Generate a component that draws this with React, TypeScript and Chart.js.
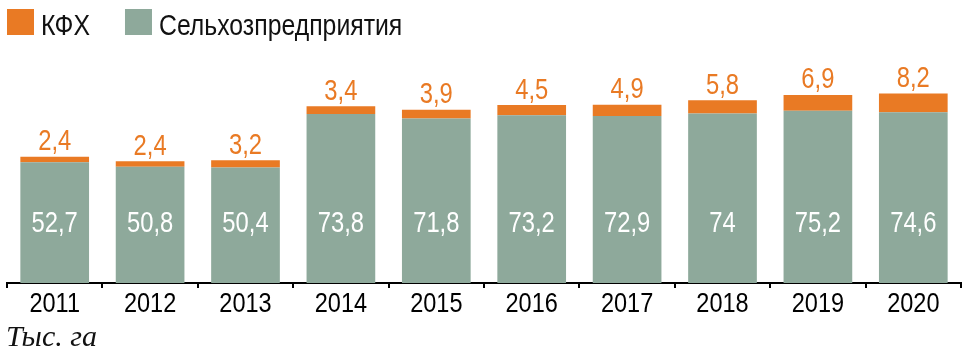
import React, { useEffect, useRef } from "react";
import { Chart, registerables } from "chart.js";

Chart.register(...registerables);

const years = ["2011", "2012", "2013", "2014", "2015", "2016", "2017", "2018", "2019", "2020"];
const agriValues = [52.7, 50.8, 50.4, 73.8, 71.8, 73.2, 72.9, 74, 75.2, 74.6];
const farmValues = [2.4, 2.4, 3.2, 3.4, 3.9, 4.5, 4.9, 5.8, 6.9, 8.2];
const agriLabel = "Сельхозпредприятия";
const farmLabel = "КФХ";
const unitLabel = "Тыс. га";

const GREEN = "#8ea99b";
const ORANGE = "#e97a24";
const SANS = "'Liberation Sans', Arial, sans-serif";

const fmt = (v: number) => String(v).replace(".", ",");

function narrowText(ctx: any, text: string, x: number, y: number, size: number, align: string, color: string, k = 0.82) {
  ctx.save();
  ctx.translate(x, y);
  ctx.scale(k, 1);
  ctx.font = `${size}px ${SANS}`;
  ctx.textAlign = align;
  ctx.textBaseline = "alphabetic";
  ctx.fillStyle = color;
  ctx.fillText(text, 0, 0);
  const w = ctx.measureText(text).width * k;
  ctx.restore();
  return w;
}

const labelsPlugin = {
  id: "valueLabels",
  afterDatasetsDraw(chart: any) {
    const ctx = chart.ctx;
    const m0 = chart.getDatasetMeta(0);
    m0.data.forEach((bar: any, i: number) => {
      narrowText(ctx, fmt(agriValues[i]), bar.x, bar.base - 51, 29, "center", "#ffffff");
    });
    const m1 = chart.getDatasetMeta(1);
    m1.data.forEach((bar: any, i: number) => {
      narrowText(ctx, fmt(farmValues[i]), bar.x, bar.y - 6.5, 29, "center", ORANGE);
    });
  },
};

const axisLabelsPlugin = {
  id: "yearLabels",
  afterDraw(chart: any) {
    const ctx = chart.ctx;
    const xs = chart.scales.x;
    xs.ticks.forEach((t: any, i: number) => {
      const px = xs.getPixelForTick(i);
      narrowText(ctx, String(xs.getLabelForValue(t.value)), px, xs.top + 29, 28, "center", "#000", 0.84);
    });
  },
};

const legendPlugin = {
  id: "customLegend",
  afterDraw(chart: any) {
    const ctx = chart.ctx;
    const items = [
      { text: chart.data.datasets[1].label, color: chart.data.datasets[1].backgroundColor },
      { text: chart.data.datasets[0].label, color: chart.data.datasets[0].backgroundColor },
    ];
    let x = 7;
    const top = 9;
    const box = 27;
    items.forEach((it) => {
      ctx.fillStyle = it.color;
      ctx.fillRect(x, top, box, 26);
      const tx = x + box + 7;
      const w = narrowText(ctx, it.text, tx, 35, 29, "left", "#111", 0.855);
      x = tx + w + 35;
    });
    ctx.save();
    ctx.font = `italic 30px 'Liberation Serif', serif`;
    ctx.textBaseline = "alphabetic";
    ctx.textAlign = "left";
    ctx.fillStyle = "#111";
    ctx.fillText(unitLabel, 6, 346);
    ctx.restore();
  },
};

export default function App() {
  const ref = useRef<HTMLCanvasElement>(null);
  useEffect(() => {
    document.body.style.margin = "0";
    const chart = new Chart(ref.current!, {
      type: "bar",
      data: {
        labels: years,
        datasets: [
          { label: agriLabel, data: agriValues, backgroundColor: GREEN, stack: "s" },
          { label: farmLabel, data: farmValues, backgroundColor: ORANGE, stack: "s" },
        ],
      },
      options: {
        animation: false,
        responsive: false,
        layout: { padding: { left: 7, right: 10, top: 54, bottom: 0 } },
        plugins: { legend: { display: false }, tooltip: { enabled: false } },
        datasets: { bar: { categoryPercentage: 1, barPercentage: 0.72 } },
        scales: {
          x: {
            stacked: true,
            afterFit: (s: any) => {
              s.height = 77;
            },
            border: { color: "#000", width: 2 },
            grid: {
              offset: true,
              drawOnChartArea: false,
              drawTicks: true,
              tickLength: 5,
              color: "#000",
              lineWidth: 2,
            },
            ticks: { display: false },
          },
          y: { stacked: true, display: false, min: 0, max: 100 },
        },
      },
      plugins: [labelsPlugin, axisLabelsPlugin, legendPlugin],
    });
    return () => chart.destroy();
  }, []);
  return <canvas ref={ref} width={971} height={360} style={{ display: "block" }} />;
}
